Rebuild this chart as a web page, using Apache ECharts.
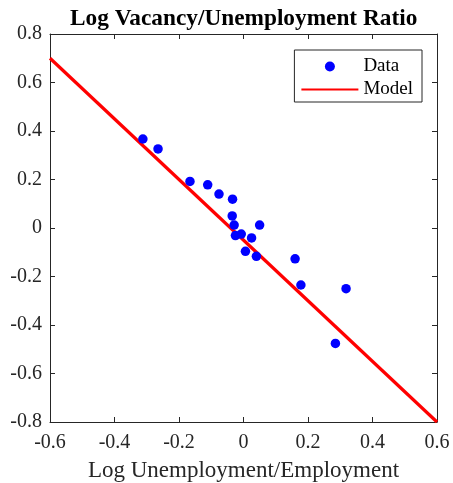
<!DOCTYPE html>
<html><head><meta charset="utf-8">
<script src="https://cdn.jsdelivr.net/npm/echarts@6/dist/echarts.min.js"></script>
<style>html,body{margin:0;padding:0;background:#fff}#c{width:453px;height:483px}</style>
</head><body><div id="c"></div>
<script>
const titleText = 'Log Vacancy/Unemployment Ratio';
const xName = 'Log Unemployment/Employment';
const dataX = [-0.312,-0.265,-0.166,-0.111,-0.076,-0.034,-0.035,-0.029,-0.025,-0.007,0.025,0.05,0.006,0.04,0.16,0.178,0.318,0.285];
const dataY = [0.367,0.326,0.192,0.178,0.140,0.119,0.050,0.012,-0.031,-0.025,-0.041,0.012,-0.096,-0.117,-0.127,-0.235,-0.250,-0.476];
const modelX = [-0.6, 0.6];
const modelY = [0.7, -0.8];
const xTicks = [-0.6,-0.4,-0.2,0,0.2,0.4,0.6];
const yTicks = [-0.8,-0.6,-0.4,-0.2,0,0.2,0.4,0.6,0.8];

const font = 'Liberation Serif';
const axisCol = '#262626';
const fmt = v => (Math.abs(v) < 1e-9 ? '0' : String(Math.round(v*10)/10));

const chart = echarts.init(document.getElementById('c'), null, {renderer:'canvas'});
const baseAxis = (extra) => Object.assign({
  type:'value', interval:0.2,
  axisLine:{show:true, onZero:false, lineStyle:{color:axisCol, width:1}},
  axisTick:{show:true, inside:true, length:5, lineStyle:{color:axisCol}},
  splitLine:{show:false}
}, extra);
chart.setOption({
  animation:false,
  backgroundColor:'#fff',
  title:{text:titleText, left:65, top:2,
    textStyle:{fontFamily:font, fontWeight:'bold', fontSize:23.3, color:'#000'}},
  grid:{left:50, right:16, top:34, bottom:61, show:false, outerBoundsMode:'none', containLabel:false},
  legend:{
    orient:'vertical', right:31, top:50,
    borderColor:axisCol, borderWidth:1, padding:[7,9,3,6], itemGap:4,
    itemWidth:57, itemHeight:10,
    textStyle:{fontFamily:font, fontSize:19, color:'#000'},
    data:[{name:'Data'},{name:'Model', itemStyle:{opacity:0}}]
  },
  xAxis:[
    baseAxis({min:xTicks[0], max:xTicks[xTicks.length-1], position:'bottom',
      name:xName, nameLocation:'middle', nameGap:37,
      nameTextStyle:{fontFamily:font, fontSize:23, color:axisCol},
      axisLabel:{fontFamily:font, fontSize:20, color:axisCol, margin:11, formatter:fmt}}),
    baseAxis({min:xTicks[0], max:xTicks[xTicks.length-1], position:'top', axisLabel:{show:false}})
  ],
  yAxis:[
    baseAxis({min:yTicks[0], max:yTicks[yTicks.length-1], position:'left',
      axisLabel:{fontFamily:font, fontSize:20, color:axisCol, margin:8, padding:[4,0,0,0], formatter:fmt}}),
    baseAxis({min:yTicks[0], max:yTicks[yTicks.length-1], position:'right', axisLabel:{show:false}})
  ],
  series:[
    {name:'Data', type:'scatter', xAxisIndex:0, yAxisIndex:0, symbol:'circle', symbolSize:9.5,
     itemStyle:{color:'#0000ff', opacity:1}, data:dataX.map((x,i)=>[x,dataY[i]]), z:3},
    {name:'Model', type:'line', xAxisIndex:0, yAxisIndex:0, symbol:'none', showSymbol:false,
     lineStyle:{color:'#ff0000', width:3.2}, itemStyle:{color:'#ff0000'},
     data:modelX.map((x,i)=>[x,modelY[i]]), z:2}
  ]
});
</script></body></html>
